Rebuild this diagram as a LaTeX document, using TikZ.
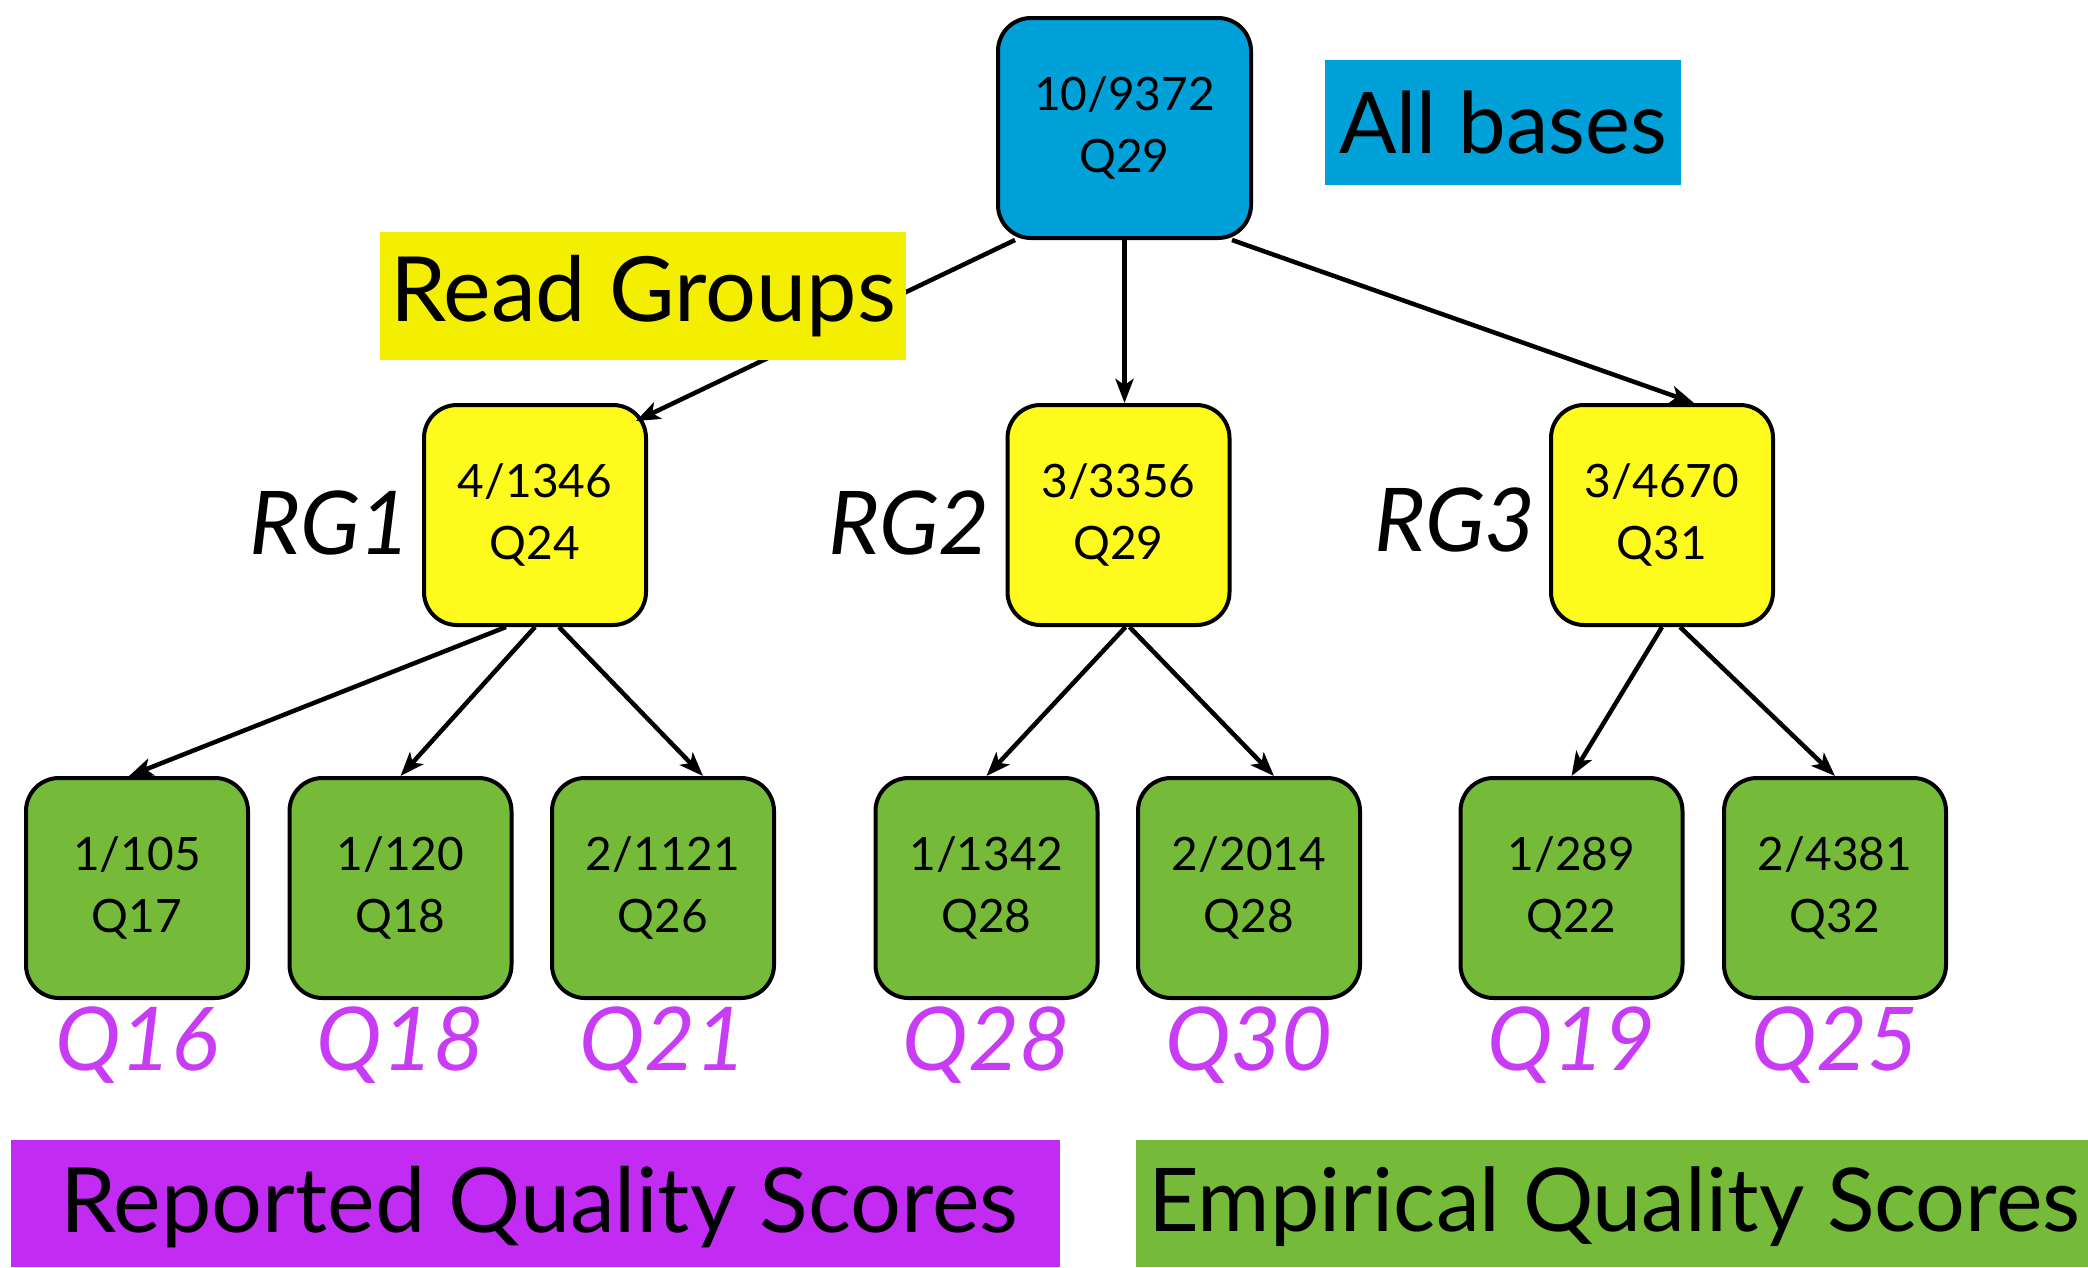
\documentclass[tikz,border=0pt]{standalone}
\usepackage{fontspec}
\setmainfont{Lato}
\usetikzlibrary{arrows.meta,calc}
\definecolor{cblue}{RGB}{0,160,216}
\definecolor{cyel}{RGB}{255,250,30}
\definecolor{cyellab}{RGB}{244,238,0}
\definecolor{cgreen}{RGB}{118,186,58}
\definecolor{cpurp}{RGB}{194,44,242}
\definecolor{cpurptxt}{RGB}{200,60,245}
\tikzset{
  x=1pt,y=-1pt,
  qbox/.style={draw=black,line width=4pt,rounded corners=33pt,minimum width=222pt,minimum height=220pt,align=center,inner sep=0pt,
    font=\fontsize{46}{62}\selectfont},
  topbox/.style={qbox,fill=cblue,minimum width=253pt},
  rgbox/.style={qbox,fill=cyel},
  leafbox/.style={qbox,fill=cgreen},
  bigtag/.style={inner sep=0pt,font=\fontsize{85}{90}\selectfont},
  rglab/.style={font=\fontsize{88}{90}\selectfont\itshape},
  qlab/.style={text=cpurptxt,font=\fontsize{88}{90}\selectfont\itshape},
  conn/.style={line width=4.5pt,-{Stealth[length=24pt,width=18pt,inset=6pt]}},
}
\begin{document}
\begin{tikzpicture}
\useasboundingbox (0,0) rectangle (2088,1267);
% nodes
\node[topbox] (top) at (1124.5,128) {10/9372\\Q29};
\node[rgbox] (rg1) at (535,515) {4/1346\\Q24};
\node[rgbox] (rg2) at (1118.5,515) {3/3356\\Q29};
\node[rgbox] (rg3) at (1662,515) {3/4670\\Q31};
\node[leafbox] (l1) at (137,888) {1/105\\Q17};
\node[leafbox] (l2) at (400.5,888) {1/120\\Q18};
\node[leafbox] (l3) at (663,888) {2/1121\\Q26};
\node[leafbox] (l4) at (986.5,888) {1/1342\\Q28};
\node[leafbox] (l5) at (1249,888) {2/2014\\Q28};
\node[leafbox] (l6) at (1571.5,888) {1/289\\Q22};
\node[leafbox] (l7) at (1835,888) {2/4381\\Q32};
% connectors
\draw[conn] ($(top.south west)+(19,0)$) -- ($(rg1.north east)+(-12,18)$);
\draw[conn] (top.south) -- ($(rg2.north)+(6,0)$);
\draw[conn] ($(top.south east)+(-21,0)$) -- ($(rg3.north)+(32,0)$);
\draw[conn] ($(rg1.south)+(-29,0)$) -- ($(l1.north)+(-8,0)$);
\draw[conn] (rg1.south) -- (l2.north);
\draw[conn] ($(rg1.south)+(24,0)$) -- ($(l3.north)+(40,0)$);
\draw[conn] ($(rg2.south)+(7,0)$) -- (l4.north);
\draw[conn] ($(rg2.south)+(11,0)$) -- ($(l5.north)+(25,0)$);
\draw[conn] (rg3.south) -- (l6.north);
\draw[conn] ($(rg3.south)+(18,0)$) -- (l7.north);
% labels
\node[bigtag,fill=cblue,minimum width=356pt,minimum height=125pt] (allb) at (1503,122.5) {All bases};
\node[bigtag,fill=cyellab,minimum width=526pt,minimum height=128pt,font=\fontsize{90}{95}\selectfont] (rgtag) at (643,296) {Read Groups};
\node[rglab] (rg1l) at (330,523) {RG1};
\node[rglab] (rg2l) at (909,523) {RG2};
\node[rglab] (rg3l) at (1455,520) {RG3};
\node[qlab] (q1) at (137,1045) {Q16};
\node[qlab] (q2) at (400.5,1045) {Q18};
\node[qlab] (q3) at (663,1045) {Q21};
\node[qlab] (q4) at (986.5,1045) {Q28};
\node[qlab] (q5) at (1249,1045) {Q30};
\node[qlab] (q6) at (1571.5,1045) {Q19};
\node[qlab] (q7) at (1835,1045) {Q25};
\fill[cpurp] (11,1140) rectangle (1060,1267);
\node[bigtag,anchor=west,font=\fontsize{90}{95}\selectfont] (rep) at (60,1207) {Reported Quality Scores};
\fill[cgreen] (1136,1140) rectangle (2088,1267);
\node[bigtag,anchor=west,font=\fontsize{88}{95}\selectfont] (emp) at (1148,1207) {Empirical Quality Scores};
\end{tikzpicture}
\end{document}
